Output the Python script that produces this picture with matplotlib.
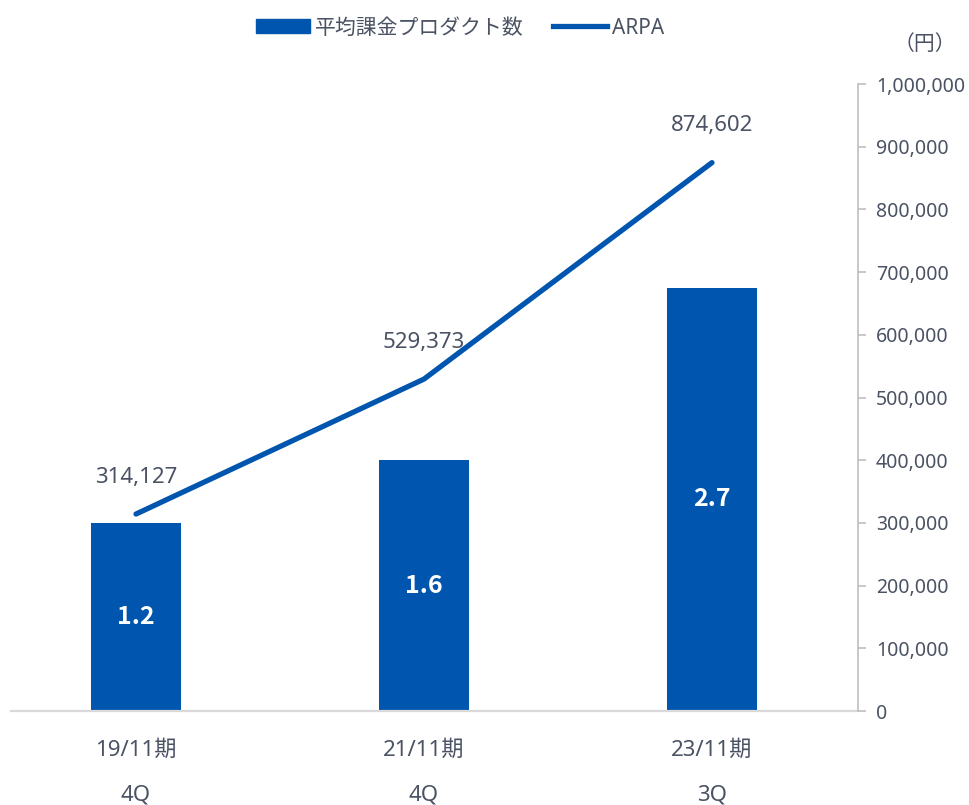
import matplotlib.pyplot as plt
from matplotlib.lines import Line2D
from matplotlib.patches import Patch
from matplotlib.ticker import FuncFormatter

plt.rcParams['font.family'] = ['Noto Sans', 'Noto Sans CJK JP', 'DejaVu Sans']

periods = ["19/11期", "21/11期", "23/11期"]
quarters = ["4Q", "4Q", "3Q"]
products = [1.2, 1.6, 2.7]
arpa = [314127, 529373, 874602]

blue = "#0055AE"
text_color = "#4A5263"

fig = plt.figure(figsize=(9.69, 8.05), dpi=100)
ax = fig.add_axes([11 / 969, 94 / 805, 847 / 969, 627 / 805])
ax2 = ax.twinx()

x = list(range(len(periods)))
bars = ax.bar(x, products, width=0.31, color=blue, zorder=2)
ax.set_ylim(0, 4.0)
ax.set_xlim(-0.434, 2.507)
ax.set_yticks([])
ax.set_xticks([])
for side in ["left", "top", "right"]:
    ax.spines[side].set_visible(False)
ax.spines["bottom"].set_color("#D9D9D9")
ax.spines["bottom"].set_linewidth(1.6)

# 棒の中の数値は太字
for xi, v in zip(x, products):
    ax.text(xi, v / 2, f"{v:.1f}", ha="center", va="center", color="white",
            fontsize=18, fontweight="bold", family=["Noto Sans CJK JP"])

ax2.plot(x, arpa, color=blue, linewidth=3.8, solid_capstyle="round", zorder=3)
ax2.set_ylim(0, 1000000)
ax2.set_yticks(range(0, 1000001, 100000))
ax2.yaxis.set_major_formatter(FuncFormatter(lambda v, p: f"{int(v):,}"))
ax2.tick_params(axis="y", colors="#BFBFBF", labelcolor=text_color, labelsize=14,
                length=6, width=1.2, pad=7)
for side in ["left", "top", "bottom"]:
    ax2.spines[side].set_visible(False)
ax2.spines["right"].set_color("#BFBFBF")
ax2.spines["right"].set_linewidth(1.2)

for xi, v in zip(x, arpa):
    ax2.annotate(f"{v:,}", (xi, v), xytext=(0, 37), textcoords="offset pixels",
                 ha="center", va="center", color=text_color, fontsize=16)

for xi, p, q in zip(x, periods, quarters):
    ax.annotate(p, (xi, 0), xytext=(0, -39), textcoords="offset pixels",
                ha="center", va="center", color=text_color, fontsize=16)
    ax.annotate(q, (xi, 0), xytext=(0, -84), textcoords="offset pixels",
                ha="center", va="center", color=text_color, fontsize=16)

fig.text(925 / 969, 1 - 45 / 805, "（円）", ha="center", va="center",
         color=text_color, fontsize=15)

handles = [Patch(color=blue), Line2D([0], [0], color=blue, linewidth=3.8)]
fig.legend(handles, ["平均課金プロダクト数", "ARPA"], loc="center",
           bbox_to_anchor=(460 / 969, 1 - 28 / 805), ncol=2, frameon=False,
           fontsize=15, labelcolor=text_color, handlelength=2.6,
           handletextpad=0.25, columnspacing=1.4)

fig.savefig("out.png", dpi=100)
